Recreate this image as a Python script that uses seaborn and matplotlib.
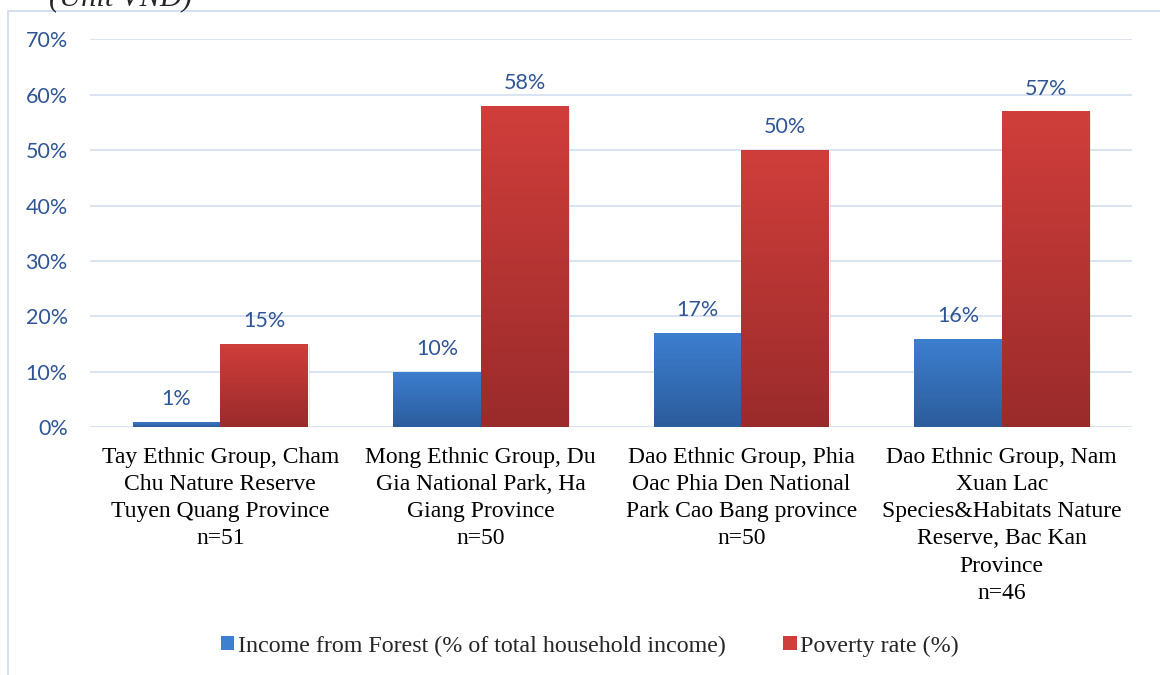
import numpy as np
import pandas as pd
import matplotlib
matplotlib.use("Agg")
import matplotlib.pyplot as plt
import matplotlib.patheffects as pe
from matplotlib.colors import LinearSegmentedColormap
from matplotlib.patches import Patch, Rectangle
import seaborn as sns

# ---- data -------------------------------------------------------------
sites = [
    "Tay Ethnic Group, Cham\nChu Nature Reserve\nTuyen Quang Province\nn=51",
    "Mong Ethnic Group, Du\nGia National Park, Ha\nGiang Province\nn=50",
    "Dao Ethnic Group, Phia\nOac Phia Den National\nPark Cao Bang province\nn=50",
    "Dao Ethnic Group, Nam\nXuan Lac\nSpecies&Habitats Nature\nReserve, Bac Kan\nProvince\nn=46",
]
series_names = ["Income from Forest (% of total household income)", "Poverty rate (%)"]
income_forest = [1, 10, 17, 16]
poverty_rate = [15, 58, 50, 57]
y_ticks = [0, 10, 20, 30, 40, 50, 60, 70]

df = pd.DataFrame({
    "site": sites * 2,
    "series": [series_names[0]] * 4 + [series_names[1]] * 4,
    "value": income_forest + poverty_rate,
})

# ---- style ------------------------------------------------------------
sns.set_theme(style="white")
plt.rcParams["font.family"] = ["Lato", "DejaVu Sans"]

label_blue = "#2F5597"
grid_col = "#D5E0F0"
serif = ["Liberation Serif", "DejaVu Serif"]

# gradient end colours (top, bottom) for each series
grads = {
    series_names[0]: ("#3D7FD0", "#2B5C9C"),
    series_names[1]: ("#D03E3B", "#9A2B2B"),
}
solid = {k: v[0] for k, v in grads.items()}

fig = plt.figure(figsize=(11.6, 6.75), dpi=100)
ax = fig.add_axes([90 / 1160, 1 - 427.3 / 675, (1132 - 90) / 1160, (427.3 - 39.3) / 675])

sns.barplot(data=df, x="site", y="value", hue="series", order=sites,
            hue_order=series_names, palette=solid, width=0.672, gap=0,
            dodge=True, errorbar=None, legend=False, ax=ax, zorder=3)

ax.set_ylim(0, 70)
ax.set_xlim(-0.5, len(sites) - 0.5)
ax.set_yticks(y_ticks)
ax.set_yticklabels([f"{t}%" for t in y_ticks])
ax.yaxis.grid(True, color=grid_col, linewidth=1.3, zorder=0)
ax.set_axisbelow(True)
for s in ax.spines.values():
    s.set_visible(False)
ax.tick_params(axis="y", length=0, pad=16, labelsize=15.5, labelcolor=label_blue)
ax.tick_params(axis="x", length=0, pad=14)
for t in ax.get_xticklabels():
    t.set_fontfamily(serif)
    t.set_fontsize(17)
    t.set_color("black")
    t.set_linespacing(1.39)
ax.set_xlabel("")
ax.set_ylabel("")

# vertical gradient fill inside each bar, plus data labels
bars = [p for p in ax.patches if isinstance(p, Rectangle) and p.get_height() > 0]
n = len(sites)
for i, bar in enumerate(bars[: 2 * n]):
    sname = series_names[i // n]
    top_c, bot_c = grads[sname]
    cmap = LinearSegmentedColormap.from_list("g", [bot_c, top_c])
    x0, w, h = bar.get_x(), bar.get_width(), bar.get_height()
    bar.set_path_effects([pe.SimplePatchShadow(offset=(1.5, -1.5), shadow_rgbFace="#9a9a9a", alpha=0.25),
                          pe.Normal()])
    img = ax.imshow(np.linspace(0, 1, 256).reshape(-1, 1), cmap=cmap, origin="lower",
                    extent=[x0, x0 + w, 0, h], aspect="auto", zorder=3.5)
    img.set_clip_path(bar)
    ax.annotate(f"{h:g}%", (x0 + w / 2, h), xytext=(0, 12), textcoords="offset points",
                ha="center", va="baseline", fontsize=15.5, color=label_blue)
ax.set_xlim(-0.5, len(sites) - 0.5)
ax.set_ylim(0, 70)

# legend
handles = [Patch(facecolor=grads[s][0], edgecolor="none") for s in series_names]
fig.legend(handles, series_names, loc="center", bbox_to_anchor=(590 / 1160, 1 - 646 / 675),
           ncol=2, frameon=False, prop={"family": serif, "size": 17.3},
           handlelength=0.55, handleheight=0.55, handletextpad=0.15, columnspacing=2.4)

# outer chart frame
fig.patches.append(Rectangle((8 / 1160, -0.05), 1.1, 1.05 - 11 / 675, transform=fig.transFigure,
                             fill=False, edgecolor="#D0DCEE", linewidth=1.3, zorder=0))

fig.text(49 / 1160, 1 - 5 / 675, "(Unit VND)", family=serif, style="italic",
         fontsize=22, va="baseline", ha="left")

fig.savefig("out.png", dpi=100)
